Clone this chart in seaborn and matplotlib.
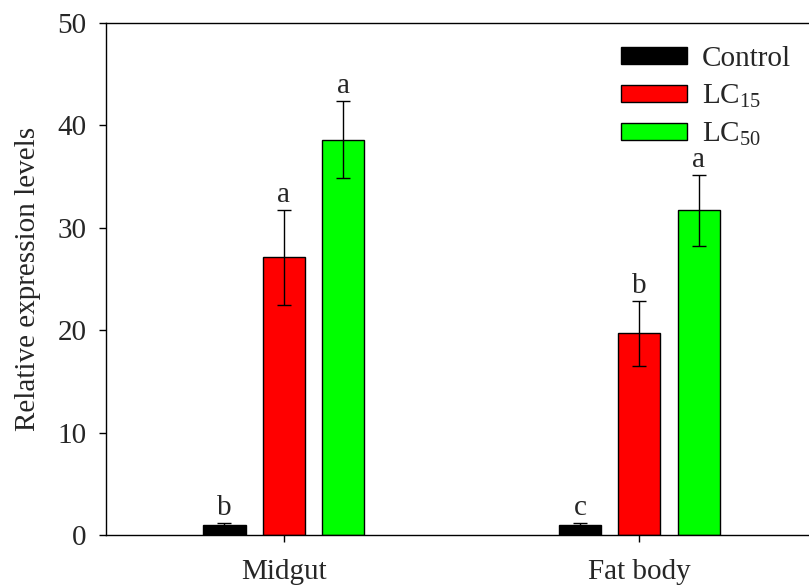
import matplotlib
matplotlib.use("Agg")
import matplotlib.pyplot as plt
import seaborn as sns
import pandas as pd
import numpy as np
from matplotlib.patches import Patch

tissues = ["Midgut", "Fat body"]
treatments = ["Control", "LC15", "LC50"]
legend_labels = ["Control", r"LC$_{15}$", r"LC$_{50}$"]
means = {
    "Control": [1.0, 1.0],
    "LC15": [27.1, 19.7],
    "LC50": [38.6, 31.7],
}
errors = {
    "Control": [0.2, 0.15],
    "LC15": [4.65, 3.15],
    "LC50": [3.75, 3.45],
}
letters = {
    "Control": ["b", "c"],
    "LC15": ["a", "b"],
    "LC50": ["a", "a"],
}
colors = ["#000000", "#FF0000", "#00FF00"]
yticks = [0, 10, 20, 30, 40, 50]

rows = []
for t in treatments:
    for i, tis in enumerate(tissues):
        rows.append({"Tissue": tis, "Treatment": t, "Value": means[t][i]})
df = pd.DataFrame(rows)

sns.set_style("ticks")
plt.rcParams["font.family"] = ["Liberation Serif", "DejaVu Serif"]
plt.rcParams["mathtext.fontset"] = "custom"
plt.rcParams["mathtext.rm"] = "Liberation Serif"
plt.rcParams["mathtext.it"] = "Liberation Serif:italic"

FS = 21

fig = plt.figure(figsize=(8.09, 5.88), dpi=100)
ax = fig.add_axes([0.131, 0.0901, 0.879, 0.871])

sns.barplot(data=df, x="Tissue", y="Value", hue="Treatment", order=tissues,
            hue_order=treatments, palette=colors, width=0.5, gap=0.29,
            edgecolor="black", linewidth=1.0, errorbar=None, legend=False, ax=ax,
            saturation=1)

for ci, t in enumerate(treatments):
    cont = ax.containers[ci]
    for j, patch in enumerate(cont.patches):
        xc = patch.get_x() + patch.get_width() / 2
        h = patch.get_height()
        e = errors[t][j]
        ax.errorbar(xc, h, yerr=e, color="black", capsize=4.7, elinewidth=1.0,
                    capthick=1.0, fmt="none")
        ax.text(xc, h + e + 0.2, letters[t][j], ha="center", va="bottom",
                fontsize=FS)

ax.set_xlim(-0.5, 1.5)
ax.set_ylim(0, 50)
ax.set_yticks(yticks)
ax.set_xlabel("")
ax.set_ylabel("Relative expression levels", fontsize=FS, labelpad=12)
ax.tick_params(axis="both", labelsize=FS, direction="out", length=5, width=1,
               color="black")
ax.tick_params(axis="y", pad=9)
ax.tick_params(axis="x", pad=12)
for s in ax.spines.values():
    s.set_color("black")
    s.set_linewidth(1.0)

handles = [Patch(facecolor=c, edgecolor="black", linewidth=1.0) for c in colors]
ax.legend(handles, legend_labels, loc="upper left", bbox_to_anchor=(0.768, 0.922),
          bbox_transform=fig.transFigure, frameon=False, fontsize=FS,
          handlelength=2.25, handleheight=0.52, handletextpad=0.5,
          labelspacing=0.38, borderaxespad=0, borderpad=0)

fig.savefig("out.png", dpi=100)
